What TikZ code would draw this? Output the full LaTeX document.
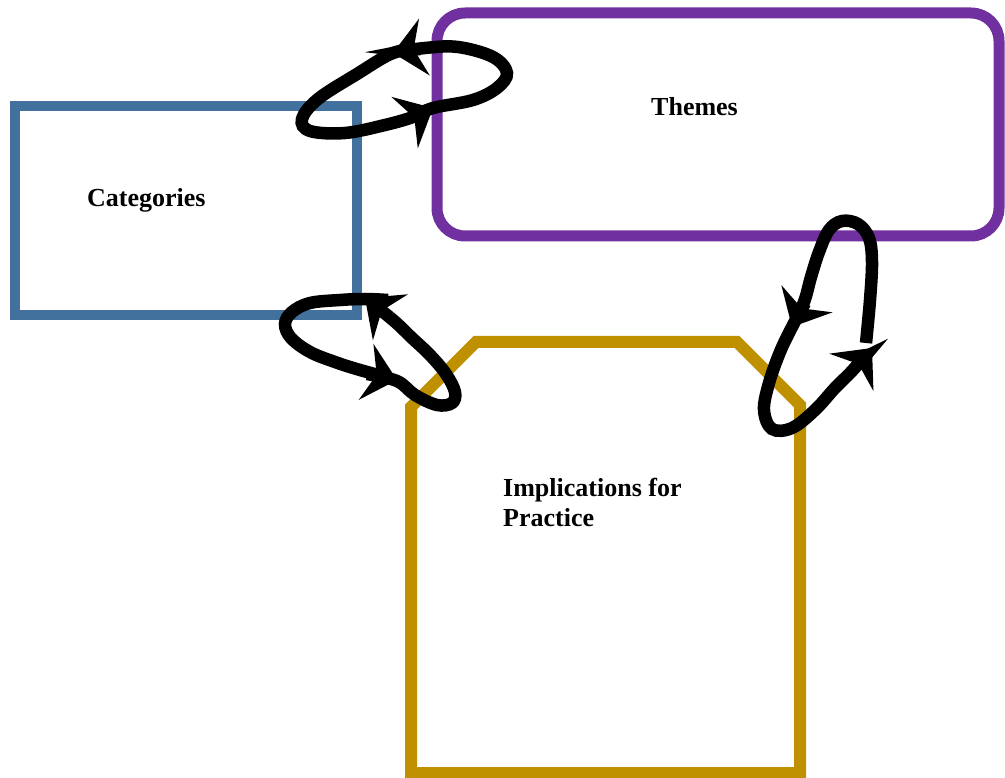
\documentclass[tikz,border=0pt]{standalone}
\usepackage{fontspec}
\setmainfont{Liberation Serif}
\usetikzlibrary{arrows.meta}
\definecolor{catblue}{RGB}{65,113,156}
\definecolor{themepurple}{RGB}{112,48,160}
\definecolor{implgold}{RGB}{191,144,0}

\begin{document}
\begin{tikzpicture}[x=1pt,y=-1pt,
  boxlabel/.style={inner sep=0pt, font=\fontsize{26}{30}\selectfont\bfseries, text=black},
  framebox/.style={inner sep=0pt, fill=none},
  cyclearc/.style={line width=12.5pt, draw=black,
    -{Stealth[length=32pt,width=58pt,inset=11pt,line width=0pt]}},
  cyclecurve/.style={smooth, tension=0.6}
]
\useasboundingbox (0,0) rectangle (1005,778);

% the three frames
\node[framebox, draw=catblue, line width=10pt,
      minimum width=342pt, minimum height=209pt] (categories) at (186,210.5) {};
\node[framebox, draw=themepurple, line width=11pt, rounded corners=28pt,
      minimum width=562pt, minimum height=223pt] (themes) at (718,124.5) {};
\draw[implgold, line width=12pt]
  (411,773) -- (411,407) -- (476,342) -- (737,342) -- (800,405) -- (800,773) -- cycle;

% captions
\node[boxlabel, anchor=base west] (categoriestext) at (87,207) {Categories};
\node[boxlabel, anchor=base west] (themestext) at (651,116) {Themes};
\node[boxlabel, anchor=north west, align=left] (impltext) at (503,478)
  {Implications for\\Practice};

% cycle between Categories and Themes
\draw[cyclearc] plot[cyclecurve] coordinates
  {(413,117) (433,108) (473,100) (497,88) (507,73) (493,57) (458,47) (425,48) (393,53)};
\draw[cyclearc] plot[cyclecurve] coordinates
  {(421,49) (393,53) (357,74) (318,99) (302,119) (310,131) (345,133) (385,125) (413,117) (433,108)};

% cycle between Categories and Implications
\draw[cyclearc] plot[cyclecurve] coordinates
  {(367,374) (397,381) (415,395) (437,405) (452,403) (455,392) (446,374) (430,355) (412,338) (393,320) (365,298)};
\draw[cyclearc] plot[cyclecurve] coordinates
  {(388,300) (365,299) (340,300) (310,303) (292,312) (285,324) (291,338) (310,352) (335,362) (360,370) (397,380)};

% cycle between Themes and Implications
\draw[cyclearc] plot[cyclecurve] coordinates
  {(805,303) (792,327) (780,352) (769,383) (764,410) (772,429) (792,428) (815,410) (835,388) (852,371) (872,348)};
\draw[cyclearc] plot[cyclecurve] coordinates
  {(866,343) (870,300) (872,262) (869,238) (858,224) (842,221) (829,230) (819,252) (811,277) (804,302) (792,327)};
\end{tikzpicture}
\end{document}
